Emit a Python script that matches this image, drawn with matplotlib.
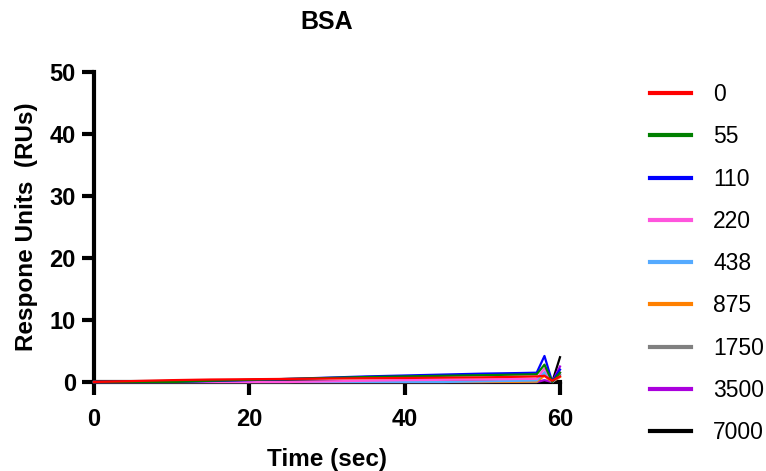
import numpy as np
import matplotlib.pyplot as plt
from matplotlib.lines import Line2D

plt.rcParams["font.family"] = ["Liberation Sans", "DejaVu Sans"]

time = [0, 5, 10, 15, 20, 25, 30, 35, 40, 45, 50, 55, 57, 58, 59, 60]

labels = ["0", "55", "110", "220", "438", "875", "1750", "3500", "7000"]
colors = ["#ff0000", "#008000", "#0000ff", "#ff55dd", "#55aaff",
          "#ff8000", "#808080", "#aa00dd", "#000000"]

resp_0 = [0, 0.15, 0.3, 0.4, 0.45, 0.5, 0.55, 0.6, 0.65, 0.7, 0.75, 0.85, 0.9, 1.0, 0.2, 0.9]
resp_55 = [0, 0, 0, 0.2, 0.35, 0.5, 0.65, 0.8, 0.9, 1.0, 1.1, 1.2, 1.25, 2.8, 0.0, 1.5]
resp_110 = [0, 0, 0, 0.15, 0.3, 0.5, 0.7, 0.9, 1.05, 1.2, 1.35, 1.45, 1.5, 4.2, 0.0, 2.0]
resp_220 = [0, 0, 0, 0, 0, 0, 0.1, 0.2, 0.3, 0.35, 0.4, 0.5, 0.5, 2.2, 0.0, 1.5]
resp_438 = [0, 0, 0, 0, 0, 0, 0, 0, 0, 0, 0.1, 0.2, 0.25, 1.6, 0.0, 1.0]
resp_875 = [0, 0, 0, 0, 0, 0, 0, 0, 0, 0, 0, 0.05, 0.1, 1.0, 0.0, 0.8]
resp_1750 = [0, 0, 0, 0, 0, 0, 0, 0, 0, 0, 0, 0, 0, 1.5, 0.0, 1.2]
resp_3500 = [0, 0, 0, 0, 0, 0, 0, 0, 0, 0, 0, 0, 0, 0.3, 0.0, 2.5]
resp_7000 = [0, 0, 0, 0, 0, 0, 0, 0, 0, 0, 0, 0, 0, 0.0, 0.0, 4.0]

series = [resp_0, resp_55, resp_110, resp_220, resp_438,
          resp_875, resp_1750, resp_3500, resp_7000]

fig = plt.figure(figsize=(7.66, 4.71), dpi=100)
ax = fig.add_axes([94 / 766, 1 - 382 / 471, (560 - 94) / 766, (382 - 72) / 471])

for lab, col, vals in reversed(list(zip(labels, colors, series))):
    ax.plot(time, vals, color=col, lw=1.6, clip_on=False, zorder=3)

ax.set_xlim(0, 60)
ax.set_ylim(0, 50)
ax.set_xticks([0, 20, 40, 60])
ax.set_yticks([0, 10, 20, 30, 40, 50])
ax.spines["top"].set_visible(False)
ax.spines["right"].set_visible(False)
for s in ["left", "bottom"]:
    ax.spines[s].set_linewidth(3)
ax.tick_params(which="major", length=9, width=3, direction="out", labelsize=17)
ax.tick_params(axis="x", pad=10)
ax.tick_params(axis="y", pad=4)
for t in ax.get_xticklabels() + ax.get_yticklabels():
    t.set_fontweight("bold")

ax.set_xlabel("Time (sec)", fontsize=17.5, fontweight="bold", labelpad=12)
ax.set_ylabel("Respone Units  (RUs)", fontsize=17.5, fontweight="bold", labelpad=8)
ax.set_title("BSA", fontsize=18, fontweight="bold", pad=31)

handles = [Line2D([0], [0], color=c, lw=3) for c in colors]
fig.legend(handles, labels, loc="upper left", bbox_to_anchor=(641 / 766, 1 - 74 / 471),
           frameon=False, fontsize=16.5, handlelength=1.8, handletextpad=0.95,
           labelspacing=0.84, borderaxespad=0)

fig.savefig("out.png", dpi=100)
